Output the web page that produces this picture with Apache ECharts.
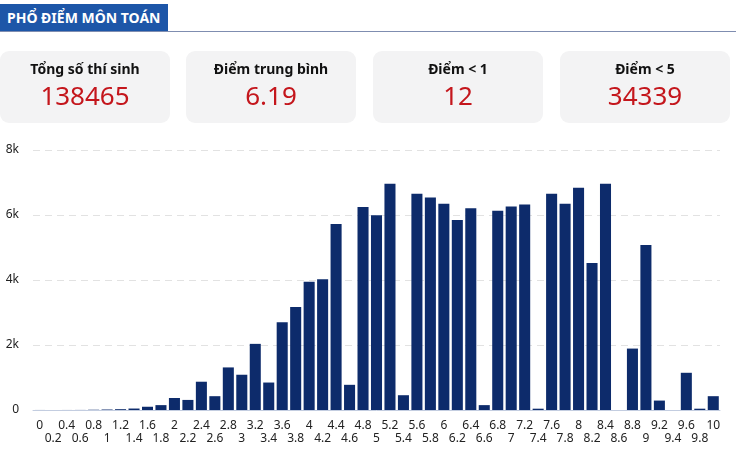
<!DOCTYPE html>
<html>
<head>
<meta charset="utf-8">
<script src="https://cdn.jsdelivr.net/npm/echarts@6/dist/echarts.min.js"></script>
<style>
  html, body { margin: 0; padding: 0; background: #fff; }
  #wrap { position: relative; width: 736px; height: 460px; overflow: hidden; font-family: "Noto Sans", "Open Sans", sans-serif; }
  #hdr { position: absolute; left: 0; top: 4px; width: 168px; height: 27px; background: #1d56a8; color: #fff; font-weight: bold; font-size: 14px; line-height: 27px; padding-left: 7px; box-sizing: border-box; white-space: nowrap; }
  #hline { position: absolute; left: 0; top: 31px; width: 736px; height: 1px; background: #7f8db0; }
  .card { position: absolute; top: 51px; width: 170px; height: 72px; background: #f3f3f4; border-radius: 9px; text-align: center; }
  .card .lab { position: absolute; left: 0; right: 0; font-weight: bold; font-size: 14px; color: #111; }
  .card .num { position: absolute; left: 0; right: 0; font-size: 26px; color: #c4161c; }
  #chart { position: absolute; left: 0; top: 0; width: 736px; height: 460px; }
</style>
</head>
<body>
<div id="wrap">
  <div id="chart"></div>
  <div id="hdr">PHỔ ĐIỂM MÔN TOÁN</div>
  <div id="hline"></div>
</div>
<script>
// ---- data ----
const title = "PHỔ ĐIỂM MÔN TOÁN";
const statLabels = ["Tổng số thí sinh", "Điểm trung bình", "Điểm < 1", "Điểm < 5"];
const statValues = ["138465", "6.19", "12", "34339"];
const categories = ["0","0.2","0.4","0.6","0.8","1","1.2","1.4","1.6","1.8",
  "2","2.2","2.4","2.6","2.8","3","3.2","3.4","3.6","3.8",
  "4","4.2","4.4","4.6","4.8","5","5.2","5.4","5.6","5.8",
  "6","6.2","6.4","6.6","6.8","7","7.2","7.4","7.6","7.8",
  "8","8.2","8.4","8.6","8.8","9","9.2","9.4","9.6","9.8","10"];
const counts = [1,0,1,2,8,15,25,45,100,150,
  370,310,870,425,1310,1085,2035,845,2700,3170,
  3950,4025,5720,775,6245,5995,6965,455,6655,6540,
  6345,5850,6210,150,6130,6265,6325,40,6655,6345,
  6840,4520,6965,0,1890,5075,290,0,1145,40,425];
const yTicks = [0, 2000, 4000, 6000, 8000];

// ---- cards ----
const wrap = document.getElementById('wrap');
const cardLefts = [0, 186, 373, 560];
statLabels.forEach((l, i) => {
  const c = document.createElement('div');
  c.className = 'card';
  c.style.left = cardLefts[i] + 'px';
  const a = document.createElement('div'); a.className = 'lab'; a.textContent = l;
  a.style.top = '8px';
  const b = document.createElement('div'); b.className = 'num'; b.textContent = statValues[i];
  b.style.top = '26px';
  c.appendChild(a); c.appendChild(b);
  wrap.appendChild(c);
});

// ---- chart ----
const chart = echarts.init(document.getElementById('chart'), null, {renderer: 'canvas'});
chart.setOption({
  animation: false,
  grid: { left: 33, right: 16, top: 150, bottom: 50, containLabel: false },
  xAxis: {
    type: 'category',
    data: categories,
    axisLine: { lineStyle: { color: '#c3cde0' } },
    axisTick: { show: false },
    axisLabel: {
      interval: 0, margin: 9, color: '#222', fontSize: 12, lineHeight: 13,
      fontFamily: 'Noto Sans',
      formatter: (v, i) => (i % 2 === 1 ? '\n' + v : v)
    }
  },
  yAxis: {
    type: 'value',
    min: yTicks[0], max: yTicks[yTicks.length - 1], interval: 2000,
    axisLine: { show: false },
    axisTick: { show: false },
    axisLabel: { margin: 14, color: '#222', fontSize: 12, fontFamily: 'Noto Sans',
      formatter: v => v === 0 ? '0' : (v / 1000) + 'k' },
    splitLine: { lineStyle: { color: '#e2e2e2', type: [7, 5] } }
  },
  series: [{
    type: 'bar',
    data: counts,
    barCategoryGap: '18%',
    itemStyle: { color: '#0d2b6b' }
  }]
});
</script>
</body>
</html>
